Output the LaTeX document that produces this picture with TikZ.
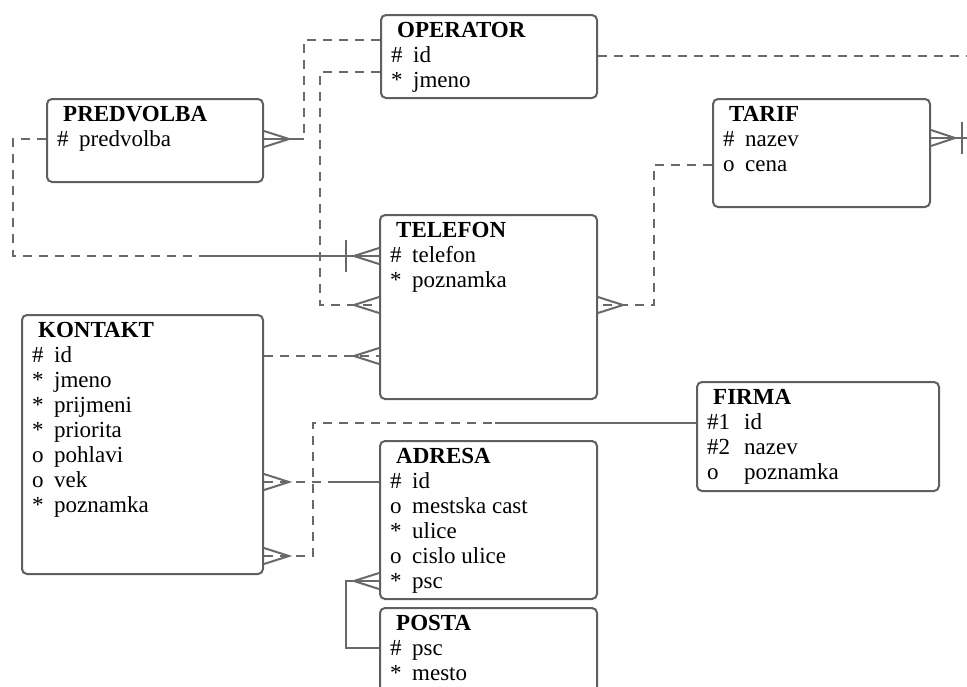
\documentclass[tikz,border=0pt]{standalone}
\usepackage{fontspec}
\setmainfont{Liberation Serif}
\usetikzlibrary{calc}
\definecolor{lin}{RGB}{105,105,105}
\definecolor{bord}{RGB}{95,95,95}
\newlength\symw
\newcommand\ri[2]{\makebox[\symw][l]{#1}#2}
\tikzset{
 ent/.style={draw=bord, line width=2pt, rounded corners=5pt, anchor=north west, inner sep=0pt, fill=white},
 ttl/.style={anchor=base west, inner sep=0pt, font=\fontsize{23}{25}\selectfont\bfseries},
 rowsbox/.style={anchor=base west, inner sep=0pt, font=\fontsize{23}{25}\selectfont},
 rel/.style={draw=lin, line width=2.6pt},
 opt/.style={rel, dash pattern=on 9pt off 7pt},
}
\newcommand\entity[8]{% name, x, y, w, h, symwidth, title, rows
 \node[ent, minimum width=#4pt, minimum height=#5pt] (#1) at (#2,#3) {};
 \node[ttl] (#1-t) at ($(#2,#3)+(17,23)$) {#7};
 \node[rowsbox] (#1-r) at ($(#2,#3)+(11,48)$) {\setlength\symw{#6pt}\begin{tabular}[t]{@{}l@{}}#8\end{tabular}};
}
\newcommand\crow[2]{\draw[rel, line width=2pt, line join=miter] ($#1+(0,8)$) -- ($#1+(#2,0)$) -- ($#1+(0,-8)$);}
\newcommand\tbar[1]{\draw[rel] ($#1+(0,16)$) -- ($#1+(0,-16)$);}
\begin{document}
\begin{tikzpicture}[x=1pt,y=-1pt]
\useasboundingbox (0,0) rectangle (967,686);
\clip (0,0) rectangle (967,686);
\fill[white] (0,0) rectangle (967,686);

\entity{op}{380}{14}{216}{83}{22}{OPERATOR}{\ri{\#}{id}\\ \ri{*}{jmeno}}
\entity{pr}{46}{98}{216}{83}{22}{PREDVOLBA}{\ri{\#}{predvolba}}
\entity{ta}{712}{98}{217}{108}{22}{TARIF}{\ri{\#}{nazev}\\ \ri{o}{cena}}
\entity{te}{379}{214}{217}{184}{22}{TELEFON}{\ri{\#}{telefon}\\ \ri{*}{poznamka}}
\entity{ko}{21}{314}{241}{259}{22}{KONTAKT}{\ri{\#}{id}\\ \ri{*}{jmeno}\\ \ri{*}{prijmeni}\\ \ri{*}{priorita}\\ \ri{o}{pohlavi}\\ \ri{o}{vek}\\ \ri{*}{poznamka}}
\entity{fi}{696}{381}{242}{109}{37}{FIRMA}{\ri{\#1}{id}\\ \ri{\#2}{nazev}\\ \ri{o}{poznamka}}
\entity{ad}{379}{440}{217}{158}{22}{ADRESA}{\ri{\#}{id}\\ \ri{o}{mestska cast}\\ \ri{*}{ulice}\\ \ri{o}{cislo ulice}\\ \ri{*}{psc}}
\entity{po}{379}{607}{217}{100}{22}{POSTA}{\ri{\#}{psc}\\ \ri{*}{mesto}}

\coordinate (offA) at (967,56);
\coordinate (offB) at (967,138);

% OPERATOR - PREDVOLBA
\draw[opt] (op.west |- 0,40) -- (304,40) -- (304,139);
\draw[rel] (304,139) -- (pr.east |- 0,139);
\crow{(pr.east |- 0,139)}{25}

% OPERATOR - TELEFON
\draw[opt] (op.west |- 0,72) -- (320,72) -- (320,305) -- (te.west |- 0,305);
\crow{(te.west |- 0,305)}{-25}

% PREDVOLBA - TELEFON
\draw[opt] (pr.west |- 0,139) -- (13,139) -- (13,256) -- (205,256);
\draw[rel] (205,256) -- (te.west |- 0,256);
\tbar{(346,256)}
\crow{(te.west |- 0,256)}{-25}

% OPERATOR - off page
\draw[opt] (op.east |- 0,56) -- (offA);

% TARIF - off page
\draw[rel] (ta.east |- 0,138) -- (offB);
\crow{(ta.east |- 0,138)}{24}
\tbar{(962,138)}

% TARIF - TELEFON
\draw[opt] (ta.west |- 0,165) -- (654,165) -- (654,305) -- (te.east |- 0,305);
\crow{(te.east |- 0,305)}{25}

% KONTAKT - TELEFON
\draw[opt] (ko.east |- 0,356) -- (te.west |- 0,356);
\crow{(te.west |- 0,356)}{-25}

% KONTAKT - ADRESA
\draw[opt] (ko.east |- 0,482) -- (330,482);
\draw[rel] (330,482) -- (ad.west |- 0,482);
\crow{(ko.east |- 0,482)}{25}

% KONTAKT - FIRMA
\draw[opt] (ko.east |- 0,556) -- (313,556) -- (313,423) -- (495,423);
\draw[rel] (495,423) -- (fi.west |- 0,423);
\crow{(ko.east |- 0,556)}{25}

% ADRESA - POSTA
\draw[rel] (ad.west |- 0,581) -- (346,581) -- (346,648) -- (po.west |- 0,648);
\crow{(ad.west |- 0,581)}{-25}
\end{tikzpicture}
\end{document}
